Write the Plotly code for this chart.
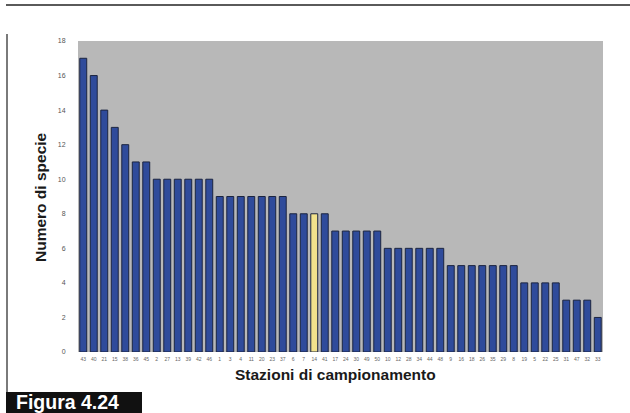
import plotly.graph_objects as go

# ---- data ----
stations = ["43", "40", "21", "15", "38", "36", "45", "2", "27", "13",
            "39", "42", "46", "1", "3", "4", "11", "20", "23", "37",
            "6", "7", "14", "41", "17", "24", "30", "49", "50", "10",
            "12", "28", "34", "44", "48", "9", "16", "18", "26", "35",
            "29", "8", "19", "5", "22", "25", "31", "47", "32", "33"]
species = [17, 16, 14, 13, 12, 11, 11,
           10, 10, 10, 10, 10, 10,
           9, 9, 9, 9, 9, 9, 9,
           8, 8, 8, 8,
           7, 7, 7, 7, 7,
           6, 6, 6, 6, 6, 6,
           5, 5, 5, 5, 5, 5, 5,
           4, 4, 4, 4,
           3, 3, 3,
           2]
highlight_station = "14"
y_ticks = [0, 2, 4, 6, 8, 10, 12, 14, 16, 18]

# ---- styling ----
W, H = 630, 413
L, R, T, B = 78, 27, 41, 61
PW, PH = W - L - R, H - T - B

def px(x):
    return (x - L) / PW

def py(y):
    return (H - B - y) / PH

bar_colors = ["#f2e28c" if s == highlight_station else "#2f4b9b" for s in stations]

fig = go.Figure()
fig.add_trace(go.Bar(
    x=stations, y=species,
    marker=dict(color=bar_colors, line=dict(color="#1c2540", width=1)),
    width=0.66,
))

fig.update_layout(
    width=W, height=H,
    margin=dict(l=L, r=R, t=T, b=B),
    paper_bgcolor="white",
    plot_bgcolor="#b8b8b8",
    showlegend=False,
    font=dict(family="Liberation Sans, Arial, sans-serif"),
)
fig.update_xaxes(
    type="category", showgrid=False, zeroline=False, showline=False,
    tickangle=0, tickfont=dict(size=5, color="#666"),
    ticks="outside", ticklen=2, tickcolor="rgba(0,0,0,0)",
)
fig.update_yaxes(
    range=[0, 18], tickvals=y_ticks, showgrid=False, zeroline=False,
    showline=False, tickfont=dict(size=7, color="#555"),
    ticks="outside", ticklen=10, tickcolor="rgba(0,0,0,0)",
)

# axis titles
fig.add_annotation(
    text="<b>Stazioni di campionamento</b>", xref="paper", yref="paper",
    x=px(335), y=py(374), xanchor="center", yanchor="middle", showarrow=False,
    font=dict(size=15.5, color="#1a1a1a"),
)
fig.add_annotation(
    text="<b>Numero di specie</b>", xref="paper", yref="paper",
    x=px(40), y=py(197), xanchor="center", yanchor="middle",
    showarrow=False, textangle=-90,
    font=dict(size=15.5, color="#1a1a1a"),
)

# page decorations
fig.add_shape(type="line", xref="paper", yref="paper",
              x0=px(6), x1=px(630), y0=py(5), y1=py(5),
              line=dict(color="#5a5a5a", width=2))
fig.add_shape(type="line", xref="paper", yref="paper",
              x0=px(7), x1=px(7), y0=py(34), y1=py(392),
              line=dict(color="#7a7a7a", width=2))
fig.add_shape(type="rect", xref="paper", yref="paper",
              x0=px(6), x1=px(142), y0=py(392), y1=py(414),
              fillcolor="#111111", line=dict(width=0))
fig.add_annotation(
    text="<b>Figura 4.24</b>", xref="paper", yref="paper",
    x=px(14), y=py(401.5), xanchor="left", yanchor="middle", showarrow=False,
    font=dict(size=19.5, color="white"),
)

fig.write_html(
    "out.html",
    config={"displayModeBar": False},
    post_script="document.body.style.margin='0px';document.body.style.overflow='hidden';",
)
